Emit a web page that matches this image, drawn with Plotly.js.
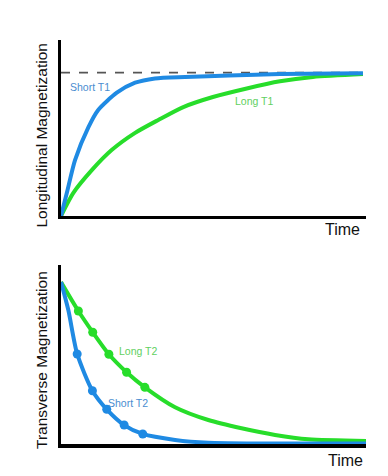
<!DOCTYPE html>
<html>
<head>
<meta charset="utf-8">
<script src="https://cdn.plot.ly/plotly-3.0.1.min.js"></script>
<style>html,body{margin:0;padding:0;background:#fff;}#chart{width:388px;height:476px;}</style>
</head>
<body>
<div id="chart"></div>
<script>
// Top panel: longitudinal recovery
const t1ShortX = [0, 0.19, 0.46, 0.90, 1.22, 1.83, 2.43, 3.08, 4.07, 5.5, 7.18, 9.90];
const t1ShortY = [0, 0.16, 0.39, 0.62, 0.74, 0.86, 0.93, 0.96, 0.97, 0.98, 0.99, 0.996];
const t1LongX = [0, 0.40, 1.01, 1.66, 2.43, 3.19, 4.01, 4.98, 6.09, 7.18, 8.26, 9.90];
const t1LongY = [0, 0.16, 0.32, 0.46, 0.58, 0.67, 0.76, 0.83, 0.89, 0.94, 0.97, 0.99];
const equilibriumX = [0, 9.9];
const equilibriumY = [1, 1];

// Bottom panel: transverse decay
const t2ShortX = [0, 0.24, 0.53, 1.03, 1.50, 2.07, 2.68, 3.74, 4.83, 10.0];
const t2ShortY = [1.0, 0.827, 0.556, 0.329, 0.214, 0.117, 0.062, 0.025, 0.008, 0.003];
const t2ShortMarkX = [0.53, 1.03, 1.50, 2.07, 2.68];
const t2ShortMarkY = [0.556, 0.329, 0.214, 0.117, 0.062];
const t2LongX = [0, 0.57, 1.04, 1.57, 2.15, 2.75, 3.74, 4.83, 5.92, 7.02, 8.11, 10.0];
const t2LongY = [1.0, 0.821, 0.690, 0.554, 0.443, 0.350, 0.227, 0.148, 0.097, 0.056, 0.029, 0.019];
const t2LongMarkX = [0.57, 1.04, 1.57, 2.15, 2.75];
const t2LongMarkY = [0.821, 0.690, 0.554, 0.443, 0.350];

const labels = ["Short T1", "Long T1", "Long T2", "Short T2"];
const axisTitles = ["Longitudinal Magnetization", "Transverse Magnetization", "Time"];

const BLUE = "#1f8ae3";
const GREEN = "#27dd2a";
const BLUE_TXT = "#4a8dd0";
const GREEN_TXT = "#5fd05f";
const FONT = "Liberation Sans, Arial, sans-serif";
const SMOOTH = 0.7;

const traces = [
  {x: equilibriumX, y: equilibriumY, xaxis: "x", yaxis: "y", mode: "lines",
   line: {color: "#555", width: 1.6, dash: "dash"}, hoverinfo: "skip"},
  {x: t1LongX, y: t1LongY, xaxis: "x", yaxis: "y", mode: "lines",
   line: {color: GREEN, width: 4, shape: "spline", smoothing: SMOOTH}, cliponaxis: false},
  {x: t1ShortX, y: t1ShortY, xaxis: "x", yaxis: "y", mode: "lines",
   line: {color: BLUE, width: 4, shape: "spline", smoothing: SMOOTH}, cliponaxis: false},
  {x: t2LongX, y: t2LongY, xaxis: "x2", yaxis: "y2", mode: "lines",
   line: {color: GREEN, width: 4, shape: "spline", smoothing: SMOOTH}, cliponaxis: false},
  {x: t2LongMarkX, y: t2LongMarkY, xaxis: "x2", yaxis: "y2", mode: "markers",
   marker: {color: GREEN, size: 9}, cliponaxis: false},
  {x: t2ShortX, y: t2ShortY, xaxis: "x2", yaxis: "y2", mode: "lines",
   line: {color: BLUE, width: 4, shape: "spline", smoothing: SMOOTH}, cliponaxis: false},
  {x: t2ShortMarkX, y: t2ShortMarkY, xaxis: "x2", yaxis: "y2", mode: "markers",
   marker: {color: BLUE, size: 9}, cliponaxis: false}
];

const axBase = {
  showgrid: false, zeroline: false, showticklabels: false, ticks: "",
  showline: true, linecolor: "#000", linewidth: 3.5, fixedrange: true, layer: "below traces"
};

const layout = {
  width: 388, height: 476,
  margin: {l: 61, r: 22, t: 40, b: 32},
  paper_bgcolor: "#fff", plot_bgcolor: "#fff",
  showlegend: false,
  font: {family: FONT, color: "#111"},
  xaxis: Object.assign({}, axBase, {domain: [0, 1], range: [0, 10], anchor: "y"}),
  yaxis: Object.assign({}, axBase, {domain: [0.5644, 1], range: [0, 1.228], anchor: "x"}),
  xaxis2: Object.assign({}, axBase, {domain: [0, 1], range: [0, 10], anchor: "y2"}),
  yaxis2: Object.assign({}, axBase, {domain: [0, 0.443], range: [0, 1.105], anchor: "x2"}),
  annotations: [
    {text: labels[0], xref: "x", yref: "y", x: 0.23, y: 0.90, xanchor: "left", yanchor: "middle",
     showarrow: false, font: {size: 10.5, color: BLUE_TXT, family: FONT}},
    {text: labels[1], xref: "x", yref: "y", x: 5.64, y: 0.805, xanchor: "left", yanchor: "middle",
     showarrow: false, font: {size: 10.5, color: GREEN_TXT, family: FONT}},
    {text: labels[2], xref: "x2", yref: "y2", x: 1.84, y: 0.576, xanchor: "left", yanchor: "middle",
     showarrow: false, font: {size: 10.5, color: GREEN_TXT, family: FONT}},
    {text: labels[3], xref: "x2", yref: "y2", x: 1.48, y: 0.251, xanchor: "left", yanchor: "middle",
     showarrow: false, font: {size: 10.5, color: BLUE_TXT, family: FONT}},
    {text: axisTitles[0], xref: "paper", yref: "paper", x: -0.0623, y: 0.7636, xanchor: "center", yanchor: "middle",
     textangle: -90, showarrow: false, font: {size: 15.5, color: "#111", family: FONT}},
    {text: axisTitles[1], xref: "paper", yref: "paper", x: -0.0623, y: 0.208, xanchor: "center", yanchor: "middle",
     textangle: -90, showarrow: false, font: {size: 15.5, color: "#111", family: FONT}},
    {text: axisTitles[2], xref: "x", yref: "paper", x: 10, xshift: -4, y: 0.53, xanchor: "right", yanchor: "middle",
     showarrow: false, font: {size: 16, color: "#111", family: FONT}},
    {text: axisTitles[2], xref: "x2", yref: "paper", x: 10, xshift: -1, y: -0.0413, xanchor: "right", yanchor: "middle",
     showarrow: false, font: {size: 16, color: "#111", family: FONT}}
  ]
};

Plotly.newPlot("chart", traces, layout, {staticPlot: true, displayModeBar: false});
</script>
</body>
</html>
